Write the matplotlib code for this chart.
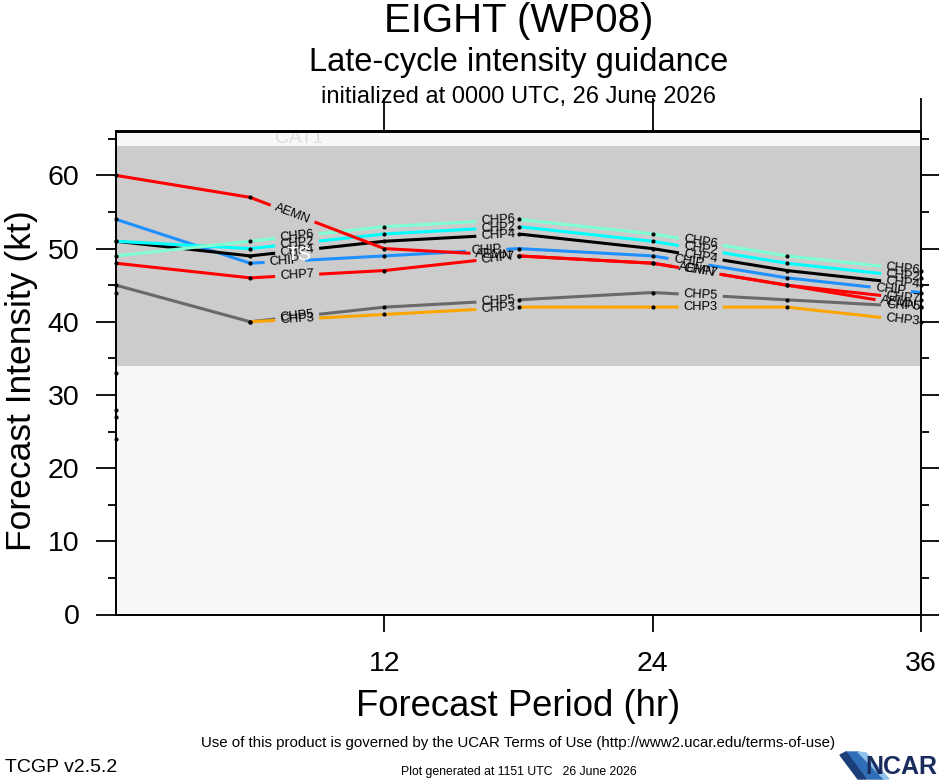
import numpy as np
import matplotlib
matplotlib.use("Agg")
import matplotlib.pyplot as plt
from matplotlib.font_manager import FontProperties
from matplotlib.patches import Polygon

# ---------------- data ----------------
hours = [0, 6, 12, 18, 24, 30, 36]
model_names = ["CHP5", "CHP3", "CHP7", "CHIP", "CHP4", "CHP2", "CHP6", "AEMN"]
model_colors = ["#696969", "#ffa500", "#ff0000", "#1e90ff", "#000000",
                "#00ffff", "#7fffd4", "#ff0000"]
chp5 = [45, 40, 42, 43, 44, 43, 42]
chp3 = [np.nan, 40, 41, 42, 42, 42, 40]
chp7 = [48, 46, 47, 49, 48, 45, 43]
chip = [54, 48, 49, 50, 49, 46, 44]
chp4 = [51, 49, 51, 52, 50, 47, 45]
chp2 = [51, 50, 52, 53, 51, 48, 46]
chp6 = [49, 51, 53, 54, 52, 49, 47]
aemn = [60, 57, 50, 49, 48, 45, 42]
init_only = [44, 33, 28, 27, 24]

band_edges = [0, 34, 64, 83]
band_names = ["TD", "TS", "CAT1"]
band_colors = ["#f8f8f8", "#cccccc", "#f8f8f8"]
band_label_colors = ["#f8f8f8", "#ffffff", "#dddddd"]

xtick_vals = [12, 24, 36]
xtick_labels = ["12", "24", "36"]
ytick_vals = [0, 10, 20, 30, 40, 50, 60]
ytick_labels = ["0", "10", "20", "30", "40", "50", "60"]

series = dict(zip(model_names, [chp5, chp3, chp7, chip, chp4, chp2, chp6, aemn]))

# ---------------- layout ----------------
W, H = 939, 780
FONT = ["Liberation Sans", "DejaVu Sans"]
plt.rcParams["font.family"] = FONT

fig = plt.figure(figsize=(W / 100, H / 100), dpi=100)
fig.patch.set_facecolor("white")
ax = fig.add_axes([116 / W, 1 - 614.5 / H, (921 - 116) / W, (614.5 - 131.5) / H])
XMIN, XMAX, YMIN, YMAX = 0, 36, 0, 66
ax.set_xlim(XMIN, XMAX)
ax.set_ylim(YMIN, YMAX)

# intensity bands
band_z = [0.2, 1.0, 0.2]
for i, name in enumerate(band_names):
    lo, hi = band_edges[i], band_edges[i + 1]
    ax.axhspan(lo, hi, color=band_colors[i], lw=0, zorder=band_z[i])
    vlo, vhi = max(lo, YMIN), min(hi, YMAX)
    if vhi > vlo and name != "TD":
        ax.text(8.2, (vlo + vhi) / 2, name, color=band_label_colors[i],
                fontsize=14, ha="center", va="center",
                zorder=(0.5 if name == "CAT1" else 7), clip_on=True)

# line labels with gaps
fig.canvas.draw()
renderer = fig.canvas.get_renderer()
lab_fp = FontProperties(family=FONT, size=9.3)
label_hours = [8.1, 17.1, 26.15, 35.2]
label_shift = {"CHIP": -0.55, "AEMN": -0.2}
PAD = 5.0
x0p = ax.transData.transform((0, 0))[0]
x1p = ax.transData.transform((36, 0))[0]
px_per_hour = (x1p - x0p) / 36.0

for name, col in zip(model_names, model_colors):
    x = np.array(hours, float)
    y = np.array(series[name], float)
    m = ~np.isnan(y)
    xv, yv = x[m], y[m]
    disp = ax.transData.transform(np.column_stack([xv, yv]))
    w = renderer.get_text_width_height_descent(name, lab_fp, ismath=False)[0]
    gaps = []
    for lh in label_hours:
        xc = lh + label_shift.get(name, 0.0)
        if xc < xv[0] or xc > xv[-1]:
            continue
        yc = np.interp(xc, xv, yv)
        i = int(np.clip(np.searchsorted(xv, xc) - 1, 0, len(xv) - 2))
        dxp = disp[i + 1, 0] - disp[i, 0]
        dyp = disp[i + 1, 1] - disp[i, 1]
        ang = np.degrees(np.arctan2(dyp, dxp))
        half = (w / 2 + PAD) * np.cos(np.radians(ang)) / px_per_hour
        gaps.append((xc - half, xc + half))
        ax.text(xc, yc, name, rotation=ang, rotation_mode="anchor",
                ha="center", va="center", fontproperties=lab_fp,
                color="black", zorder=6, clip_on=False)
    edges = [g for gp in gaps for g in gp if xv[0] < g < xv[-1]]
    bx = np.array(sorted(set(list(xv) + edges)))
    by = np.interp(bx, xv, yv)
    px, py = [], []
    for k in range(len(bx) - 1):
        mid = 0.5 * (bx[k] + bx[k + 1])
        if any(a < mid < b for a, b in gaps):
            px.append(np.nan)
            py.append(np.nan)
            continue
        px += [bx[k], bx[k + 1]]
        py += [by[k], by[k + 1]]
    ax.plot(px, py, color=col, lw=2.2, solid_capstyle="butt", zorder=3)
    ax.plot(xv, yv, "o", color="black", ms=3.0, mew=0, zorder=9, clip_on=False)

ax.plot([hours[0]] * len(init_only), init_only, "o", color="black",
        ms=3.0, mew=0, zorder=9, clip_on=False)

# axes styling
for s in ax.spines.values():
    s.set_linewidth(1.4)
    s.set_zorder(8)
ax.set_xticks(xtick_vals)
ax.set_xticklabels(xtick_labels)
ax.set_yticks(ytick_vals)
ax.set_yticklabels(ytick_labels)
ax.set_yticks(list(range(5, 66, 10)), minor=True)
ax.tick_params(axis="y", which="major", length=14.4, width=1.3, direction="out",
               left=True, right=True, labelsize=20.5, pad=12)
ax.tick_params(axis="y", which="minor", length=5.8, width=1.3, direction="out",
               left=True, right=True)
ax.tick_params(axis="x", which="major", length=12.2, width=1.3, direction="out",
               bottom=True, top=False, labelsize=20.5, pad=14)
ax.tick_params(axis="x", which="minor", bottom=False, top=False)
secax = ax.secondary_xaxis("top")
secax.set_xticks(xtick_vals)
secax.tick_params(axis="x", length=24, width=1.3, direction="out",
                  top=True, labeltop=False, labelbottom=False)
secax.spines["top"].set_linewidth(1.4)

# titles and texts
cx = (116 + 921) / 2 / W
fig.text(cx, 1 - 21 / H, "EIGHT (WP08)", fontsize=29, ha="center", va="center")
fig.text(cx, 1 - 62 / H, "Late-cycle intensity guidance", fontsize=23.5,
         ha="center", va="center")
fig.text(cx, 1 - 97 / H, "initialized at 0000 UTC, 26 June 2026", fontsize=17,
         ha="center", va="center")
fig.text(22 / W, 1 - 381 / H, "Forecast Intensity (kt)", fontsize=25.5,
         rotation=90, ha="center", va="center")
fig.text(cx, 1 - 707 / H, "Forecast Period (hr)", fontsize=26.3,
         ha="center", va="center")
fig.text(cx, 1 - 743 / H,
         "Use of this product is governed by the UCAR Terms of Use "
         "(http://www2.ucar.edu/terms-of-use)", fontsize=10.8,
         ha="center", va="center")
fig.text(5 / W, 1 - 767 / H, "TCGP v2.5.2", fontsize=14, ha="left", va="center")
fig.text(cx, 1 - 772 / H, "Plot generated at 1151 UTC   26 June 2026",
         fontsize=8.8, ha="center", va="center")

# NCAR logo
def fp_(pts):
    return [(a / W, 1 - b / H) for a, b in pts]
fig.patches.append(Polygon(fp_([(846, 752), (858, 752), (884, 779), (866, 779)]),
                           closed=True, color="#2f6fb8", transform=fig.transFigure))
fig.patches.append(Polygon(fp_([(858, 752), (866, 753), (889, 779), (884, 779)]),
                           closed=True, color="#8fc1ea", transform=fig.transFigure))
fig.patches.append(Polygon(fp_([(840, 755), (846, 752), (866, 779), (858, 779)]),
                           closed=True, color="#1c3f7a", transform=fig.transFigure))
fig.text(937 / W, 1 - 767 / H, "NCAR", fontsize=18, fontweight="bold",
         color="#1a2b5e", ha="right", va="center")

fig.savefig("out.png", dpi=100, facecolor="white")
